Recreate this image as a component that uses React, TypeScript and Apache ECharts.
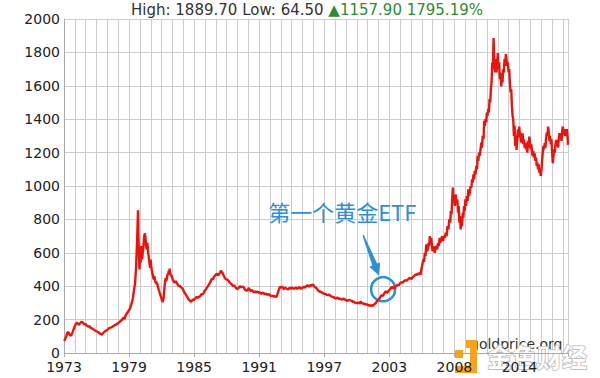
import React, { useEffect, useRef } from 'react';
import * as echarts from 'echarts';

// ---- axis values ----
const X_STEP = 0.9702; // one vertical gridline per step (years)
const X_MIN = 2034 * X_STEP; // ≈ 1973.39, a multiple of X_STEP
const X_MAX = 2018.48;
const Y_MIN = 0;
const Y_MAX = 2000;
const Y_STEP = 200;
const xTickLabels = ['1973', '1979', '1985', '1991', '1997', '2003', '2008', '2014'];

// ---- header ----
const headerHigh = '1889.70';
const headerLow = '64.50';
const headerChange = '1157.90';
const headerChangePct = '1795.19%';

// ---- annotation ----
const annotationText = '第一个黄金ETF';
const etfPoint: [number, number] = [2001.94, 382];

// ---- gold price (year, USD/oz) ----
const goldPrice: [number, number][] = [
  [1973.39, 72], [1973.48, 82], [1973.58, 98], [1973.68, 120], [1973.77, 126], [1973.9, 108],
  [1974.03, 104], [1974.17, 128], [1974.3, 152], [1974.43, 172], [1974.56, 182], [1974.7, 168],
  [1974.83, 178], [1974.97, 188], [1975.1, 180], [1975.23, 170], [1975.32, 174], [1975.4, 165],
  [1975.58, 158], [1975.67, 162], [1975.76, 150], [1975.94, 146], [1976.1, 138], [1976.28, 130],
  [1976.46, 124], [1976.64, 114], [1976.78, 110], [1976.92, 122], [1977.1, 132], [1977.2, 136],
  [1977.28, 140], [1977.46, 150], [1977.64, 154], [1977.82, 162], [1978.0, 168], [1978.18, 176],
  [1978.36, 186], [1978.54, 196], [1978.72, 212], [1978.82, 204], [1978.9, 226], [1979.08, 244],
  [1979.26, 262], [1979.4, 290], [1979.53, 320], [1979.66, 380], [1979.75, 420], [1979.84, 520],
  [1979.93, 680], [1980.01, 855], [1980.05, 700], [1980.07, 640], [1980.11, 560], [1980.14, 500],
  [1980.2, 580], [1980.25, 540], [1980.29, 640], [1980.34, 600], [1980.38, 560], [1980.43, 600],
  [1980.47, 620], [1980.52, 660], [1980.56, 700], [1980.63, 716], [1980.69, 680], [1980.74, 640],
  [1980.78, 620], [1980.83, 660], [1980.87, 640], [1980.92, 600], [1980.96, 580], [1981.01, 550],
  [1981.05, 530], [1981.1, 510], [1981.14, 560], [1981.19, 520], [1981.23, 500], [1981.28, 480],
  [1981.32, 470], [1981.37, 455], [1981.41, 440], [1981.46, 460], [1981.5, 450], [1981.55, 430],
  [1981.59, 420], [1981.64, 430], [1981.68, 410], [1981.73, 420], [1981.77, 400], [1981.82, 390],
  [1981.86, 380], [1981.91, 370], [1981.95, 360], [1982.0, 350], [1982.04, 340], [1982.09, 330],
  [1982.13, 320], [1982.18, 312], [1982.22, 306], [1982.26, 318], [1982.3, 330], [1982.35, 370],
  [1982.39, 400], [1982.44, 430], [1982.48, 450], [1982.53, 430], [1982.57, 440], [1982.62, 460],
  [1982.66, 470], [1982.71, 480], [1982.75, 490], [1982.8, 470], [1982.84, 506], [1982.88, 480],
  [1982.93, 470], [1983.02, 460], [1983.11, 440], [1983.2, 430], [1983.29, 420], [1983.38, 430],
  [1983.47, 420], [1983.56, 410], [1983.65, 400], [1983.74, 405], [1983.83, 395], [1983.92, 390],
  [1984.01, 385], [1984.1, 370], [1984.19, 360], [1984.28, 350], [1984.37, 340], [1984.46, 330],
  [1984.55, 320], [1984.64, 315], [1984.73, 306], [1984.82, 312], [1984.91, 320], [1985.0, 316],
  [1985.09, 325], [1985.18, 330], [1985.27, 336], [1985.36, 330], [1985.45, 336], [1985.54, 340],
  [1985.63, 345], [1985.72, 356], [1985.81, 350], [1985.9, 362], [1985.99, 375], [1986.08, 380],
  [1986.17, 392], [1986.26, 400], [1986.35, 410], [1986.44, 420], [1986.53, 432], [1986.62, 446],
  [1986.71, 440], [1986.8, 456], [1986.89, 462], [1986.98, 470], [1987.06, 476], [1987.15, 465],
  [1987.24, 470], [1987.33, 480], [1987.42, 492], [1987.51, 486], [1987.6, 475], [1987.69, 462],
  [1987.78, 450], [1987.87, 442], [1987.96, 440], [1988.05, 436], [1988.14, 430], [1988.23, 420],
  [1988.32, 415], [1988.41, 410], [1988.5, 400], [1988.59, 405], [1988.68, 398], [1988.77, 390],
  [1988.86, 384], [1988.95, 386], [1989.04, 392], [1989.12, 400], [1989.21, 394], [1989.3, 396],
  [1989.39, 398], [1989.48, 392], [1989.57, 380], [1989.66, 376], [1989.75, 372], [1989.84, 380],
  [1989.93, 390], [1990.02, 376], [1990.11, 372], [1990.2, 378], [1990.29, 370], [1990.38, 362],
  [1990.47, 370], [1990.56, 362], [1990.65, 368], [1990.74, 366], [1990.83, 360], [1990.91, 364],
  [1991.0, 354], [1991.09, 358], [1991.18, 362], [1991.27, 356], [1991.36, 352], [1991.45, 356],
  [1991.54, 348], [1991.63, 350], [1991.72, 354], [1991.81, 346], [1991.9, 342], [1991.99, 340],
  [1992.08, 344], [1992.17, 338], [1992.26, 340], [1992.34, 336], [1992.43, 340], [1992.52, 360],
  [1992.61, 380], [1992.7, 396], [1992.79, 390], [1992.88, 398], [1992.97, 390], [1993.06, 382],
  [1993.15, 392], [1993.24, 388], [1993.33, 384], [1993.42, 380], [1993.51, 386], [1993.6, 390],
  [1993.69, 384], [1993.78, 392], [1993.87, 388], [1993.96, 384], [1994.05, 388], [1994.13, 392],
  [1994.22, 386], [1994.31, 386], [1994.4, 394], [1994.49, 392], [1994.58, 386], [1994.67, 388],
  [1994.76, 392], [1994.85, 396], [1994.94, 392], [1995.03, 398], [1995.12, 402], [1995.21, 406],
  [1995.3, 398], [1995.38, 400], [1995.47, 408], [1995.56, 404], [1995.68, 410], [1995.76, 400],
  [1995.83, 396], [1995.92, 390], [1996.01, 386], [1996.1, 376], [1996.19, 372], [1996.28, 366],
  [1996.37, 368], [1996.46, 362], [1996.55, 358], [1996.64, 356], [1996.73, 354], [1996.82, 352],
  [1996.91, 348], [1997.0, 346], [1997.08, 350], [1997.17, 346], [1997.26, 340], [1997.35, 338],
  [1997.44, 336], [1997.53, 334], [1997.62, 330], [1997.71, 326], [1997.8, 332], [1997.89, 330],
  [1997.98, 324], [1998.07, 326], [1998.16, 322], [1998.25, 320], [1998.34, 324], [1998.43, 326],
  [1998.52, 320], [1998.61, 318], [1998.7, 312], [1998.79, 314], [1998.88, 318], [1998.96, 316],
  [1999.05, 314], [1999.14, 312], [1999.23, 306], [1999.32, 308], [1999.41, 302], [1999.5, 300],
  [1999.59, 298], [1999.68, 302], [1999.77, 300], [1999.86, 296], [1999.94, 310], [2000.03, 296],
  [2000.12, 300], [2000.21, 292], [2000.3, 296], [2000.39, 290], [2000.48, 292], [2000.57, 286],
  [2000.66, 288], [2000.75, 282], [2000.84, 284], [2000.93, 286], [2001.02, 282], [2001.11, 290],
  [2001.2, 294], [2001.29, 300], [2001.38, 308], [2001.47, 316], [2001.56, 322], [2001.64, 330],
  [2001.73, 340], [2001.82, 346], [2001.91, 342], [2002.0, 350], [2002.09, 362], [2002.18, 370],
  [2002.27, 360], [2002.36, 366], [2002.45, 374], [2002.54, 380], [2002.63, 388], [2002.72, 396],
  [2002.81, 392], [2002.9, 386], [2002.99, 394], [2003.08, 400], [2003.17, 404], [2003.26, 410],
  [2003.35, 406], [2003.43, 416], [2003.52, 420], [2003.61, 424], [2003.7, 420], [2003.79, 430],
  [2003.88, 434], [2003.97, 436], [2004.06, 432], [2004.15, 440], [2004.24, 446], [2004.33, 450],
  [2004.42, 444], [2004.51, 446], [2004.6, 454], [2004.69, 460], [2004.78, 466], [2004.87, 470],
  [2004.96, 468], [2005.05, 476], [2005.14, 472], [2005.22, 480], [2005.3, 470], [2005.36, 500],
  [2005.42, 520], [2005.48, 540], [2005.54, 560], [2005.6, 545], [2005.67, 600], [2005.73, 580],
  [2005.8, 650], [2005.86, 610], [2005.94, 620], [2006.0, 660], [2006.06, 640], [2006.12, 700],
  [2006.18, 660], [2006.24, 690], [2006.3, 650], [2006.36, 610], [2006.42, 640], [2006.48, 620],
  [2006.56, 600], [2006.62, 630], [2006.7, 640], [2006.78, 620], [2006.85, 660], [2006.92, 640],
  [2007.0, 690], [2007.06, 660], [2007.14, 680], [2007.22, 700], [2007.3, 670], [2007.38, 700],
  [2007.46, 690], [2007.54, 720], [2007.62, 700], [2007.7, 760], [2007.78, 740], [2007.86, 800],
  [2007.94, 780], [2008.0, 850], [2008.06, 830], [2008.12, 920], [2008.18, 990], [2008.24, 900],
  [2008.3, 940], [2008.36, 880], [2008.42, 950], [2008.5, 900], [2008.58, 920], [2008.64, 840],
  [2008.7, 880], [2008.76, 780], [2008.82, 820], [2008.88, 740], [2008.94, 800], [2009.0, 760],
  [2009.06, 840], [2009.12, 810], [2009.18, 880], [2009.24, 850], [2009.3, 920], [2009.36, 880],
  [2009.42, 940], [2009.5, 910], [2009.56, 980], [2009.62, 940], [2009.7, 960], [2009.76, 1000],
  [2009.84, 990], [2009.9, 1040], [2009.96, 1020], [2010.02, 1070], [2010.08, 1040], [2010.14, 1090],
  [2010.2, 1070], [2010.28, 1120], [2010.34, 1100], [2010.4, 1180], [2010.46, 1150], [2010.52, 1200],
  [2010.58, 1180], [2010.66, 1220], [2010.72, 1260], [2010.78, 1230], [2010.85, 1300], [2010.92, 1280],
  [2010.98, 1390], [2011.04, 1360], [2011.1, 1400], [2011.16, 1380], [2011.22, 1440], [2011.28, 1420],
  [2011.34, 1460], [2011.4, 1440], [2011.46, 1520], [2011.52, 1500], [2011.58, 1580], [2011.64, 1620],
  [2011.7, 1740], [2011.76, 1700], [2011.82, 1886], [2011.86, 1800], [2011.9, 1720], [2011.96, 1680],
  [2012.02, 1760], [2012.08, 1680], [2012.14, 1740], [2012.2, 1796], [2012.26, 1700], [2012.32, 1740],
  [2012.38, 1640], [2012.44, 1680], [2012.5, 1596], [2012.56, 1640], [2012.62, 1620], [2012.68, 1700],
  [2012.74, 1680], [2012.8, 1760], [2012.86, 1720], [2012.92, 1790], [2012.98, 1760], [2013.04, 1720],
  [2013.1, 1740], [2013.16, 1680], [2013.22, 1700], [2013.28, 1620], [2013.34, 1560], [2013.4, 1580],
  [2013.46, 1480], [2013.52, 1420], [2013.58, 1400], [2013.64, 1300], [2013.7, 1360], [2013.76, 1240],
  [2013.82, 1300], [2013.88, 1216], [2013.94, 1280], [2014.0, 1340], [2014.06, 1300], [2014.12, 1356],
  [2014.18, 1290], [2014.24, 1320], [2014.3, 1260], [2014.36, 1300], [2014.42, 1316], [2014.48, 1250],
  [2014.54, 1280], [2014.6, 1230], [2014.66, 1260], [2014.72, 1220], [2014.78, 1250], [2014.84, 1200],
  [2014.9, 1270], [2014.96, 1230], [2015.02, 1296], [2015.08, 1260], [2015.14, 1220], [2015.2, 1250],
  [2015.26, 1200], [2015.32, 1180], [2015.38, 1210], [2015.44, 1170], [2015.5, 1196], [2015.56, 1150],
  [2015.62, 1170], [2015.68, 1120], [2015.74, 1140], [2015.8, 1100], [2015.86, 1130], [2015.92, 1080],
  [2015.98, 1100], [2016.04, 1060], [2016.1, 1090], [2016.16, 1150], [2016.22, 1200], [2016.28, 1240],
  [2016.34, 1220], [2016.4, 1256], [2016.46, 1230], [2016.52, 1290], [2016.58, 1320], [2016.64, 1300],
  [2016.7, 1356], [2016.76, 1320], [2016.82, 1270], [2016.88, 1300], [2016.94, 1250], [2017.0, 1280],
  [2017.06, 1200], [2017.12, 1136], [2017.18, 1180], [2017.24, 1220], [2017.3, 1200], [2017.36, 1250],
  [2017.42, 1276], [2017.48, 1240], [2017.54, 1260], [2017.6, 1230], [2017.66, 1290], [2017.72, 1316],
  [2017.78, 1280], [2017.84, 1300], [2017.9, 1270], [2017.96, 1330], [2018.02, 1356], [2018.08, 1310],
  [2018.14, 1340], [2018.2, 1300], [2018.26, 1340], [2018.32, 1320], [2018.38, 1340], [2018.44, 1290],
  [2018.48, 1246],
];

const FONT = '"DejaVu Sans", Verdana, sans-serif';
const CJK = '"Noto Sans CJK SC", sans-serif';
const BLUE = '#2e8fd3';

export default function App() {
  const ref = useRef<HTMLDivElement>(null);

  useEffect(() => {
    const chart = echarts.init(ref.current!, null, { renderer: 'svg' });
    chart.setOption({
      animation: false,
      backgroundColor: '#ffffff',
      grid: { left: 64, right: 32, top: 19, bottom: 25, containLabel: false },
      xAxis: [
        {
          type: 'value',
          min: X_MIN,
          max: X_MAX,
          interval: X_STEP,
          axisLine: { show: true, lineStyle: { color: '#aaaaaa' } },
          axisTick: { show: false },
          axisLabel: { show: false },
          splitLine: { show: true, lineStyle: { color: '#cdcdcd', width: 1 } },
        },
        {
          type: 'value',
          position: 'bottom',
          min: X_MIN,
          max: X_MAX,
          interval: X_STEP * 6,
          axisLine: { show: false },
          axisTick: { show: true, length: 4, lineStyle: { color: '#aaaaaa' } },
          splitLine: { show: false },
          axisLabel: {
            show: true,
            color: '#222',
            fontSize: 14,
            lineHeight: 14,
            fontFamily: FONT,
            margin: 7,
            formatter: (v: number) => {
              const f = (v - X_MIN) / (X_STEP * 6);
              const i = Math.round(f);
              if (Math.abs(f - i) > 0.01) return '';
              return xTickLabels[i] ?? '';
            },
          },
        },
      ],
      yAxis: {
        type: 'value',
        min: Y_MIN,
        max: Y_MAX,
        interval: Y_STEP,
        axisLine: { show: true, lineStyle: { color: '#aaaaaa' } },
        axisTick: { show: false },
        splitLine: { show: true, lineStyle: { color: '#cdcdcd', width: 1 } },
        axisLabel: {
          color: '#222',
          fontSize: 14,
          lineHeight: 14,
          fontFamily: FONT,
          margin: 4,
          formatter: (v: number) => String(v),
        },
      },
      series: [
        {
          type: 'line',
          xAxisIndex: 0,
          yAxisIndex: 0,
          data: goldPrice,
          showSymbol: false,
          symbol: 'none',
          silent: true,
          lineStyle: { color: '#e8150f', width: 2.4 },
        },
      ],
    });

    const c = chart.convertToPixel({ xAxisIndex: 0, yAxisIndex: 0 }, etfPoint) as number[];
    const cx = c[0];
    const cy = c[1];
    // arrow from above-left toward the circle
    const sx = cx - 20, sy = cy - 54;
    const tx = cx - 4, ty = cy - 13.5;
    const dx = tx - sx, dy = ty - sy;
    const len = Math.hypot(dx, dy);
    const ux = dx / len, uy = dy / len;
    const px = -uy, py = ux;
    const H = 12;
    const bx = tx - ux * H, by = ty - uy * H;
    const arrowPts = [
      [sx + px * 0.7, sy + py * 0.7],
      [bx + px * 2.6, by + py * 2.6],
      [bx + px * 5.8, by + py * 5.8],
      [tx, ty],
      [bx - px * 5.8, by - py * 5.8],
      [bx - px * 2.6, by - py * 2.6],
      [sx - px * 0.7, sy - py * 0.7],
    ];

    chart.setOption({
      graphic: [
        {
          type: 'text',
          x: 307,
          y: 10,
          style: {
            text: `{a|High: ${headerHigh} Low: ${headerLow} }{b|▲${headerChange} ${headerChangePct}}`,
            align: 'center',
            verticalAlign: 'middle',
            rich: {
              a: { fill: '#333333', fontSize: 15, fontFamily: FONT },
              b: { fill: '#2f8a34', fontSize: 15, fontFamily: FONT },
            },
          },
        },
        {
          type: 'text',
          x: cx - 115,
          y: cy - 78,
          style: {
            text: annotationText,
            fill: BLUE,
            fontSize: 22,
            fontFamily: CJK,
            align: 'left',
            verticalAlign: 'middle',
          },
        },
        {
          type: 'polygon',
          shape: { points: arrowPts },
          style: { fill: BLUE },
        },
        {
          type: 'circle',
          shape: { cx, cy, r: 12 },
          style: { fill: 'none', stroke: BLUE, lineWidth: 2.5 },
        },
        {
          type: 'text',
          x: 470,
          y: 344,
          style: { text: 'goldprice.org', fill: '#333', fontSize: 14, fontFamily: FONT, verticalAlign: 'middle' },
        },
        { type: 'rect', shape: { x: 466, y: 340, width: 11, height: 8 }, style: { fill: '#f5a31a' } },
        { type: 'rect', shape: { x: 470, y: 340, width: 7, height: 33 }, style: { fill: '#f5a31a' } },
        { type: 'rect', shape: { x: 455, y: 366, width: 22, height: 7 }, style: { fill: '#f5a31a' } },
        { type: 'rect', shape: { x: 455, y: 350, width: 8, height: 8 }, style: { fill: '#f5a31a' } },
        {
          type: 'text',
          x: 487,
          y: 356,
          style: {
            text: '金色财经',
            fill: '#ffffff',
            stroke: '#b5b5b5',
            lineWidth: 1.5,
            fontSize: 25,
            fontWeight: 'bold',
            fontFamily: CJK,
            verticalAlign: 'middle',
          },
        },
      ],
    });

    return () => chart.dispose();
  }, []);

  return (
    <div
      ref={ref}
      style={{ position: 'fixed', left: 0, top: 0, width: 600, height: 378, background: '#fff' }}
    />
  );
}
